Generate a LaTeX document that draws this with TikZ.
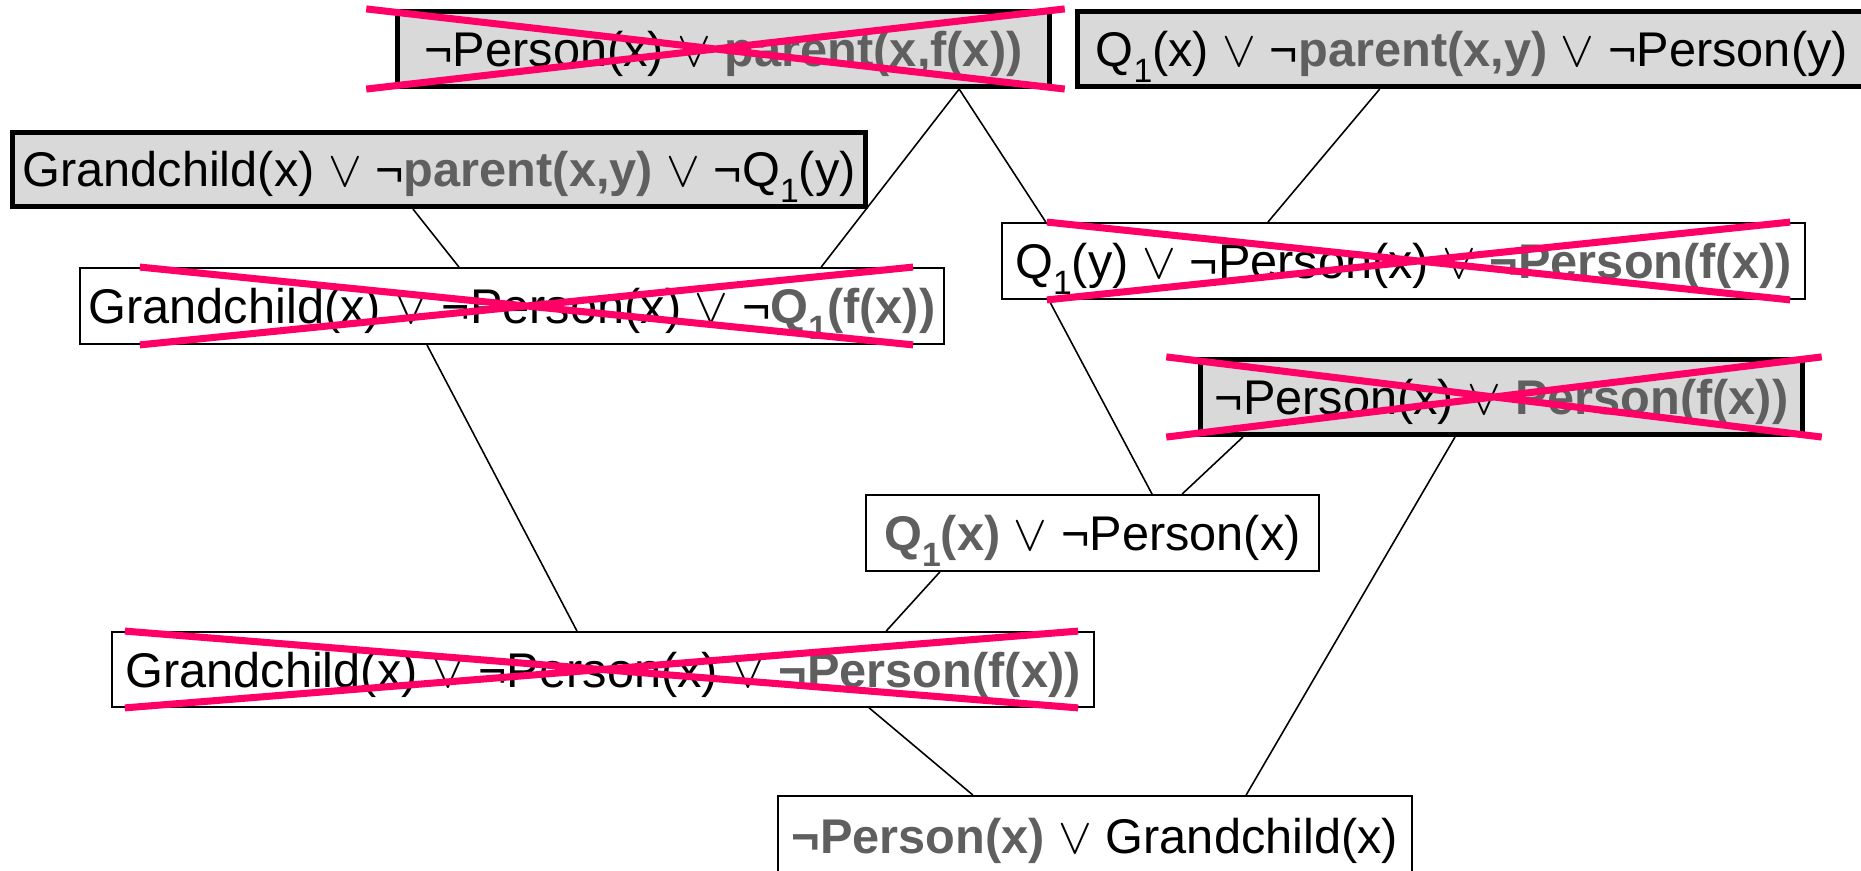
\documentclass[tikz,border=0pt]{standalone}
\usepackage{fontspec}
\setmainfont{Liberation Sans}
\usepackage{xcolor}
\usepackage{tikz}
\usetikzlibrary{calc}
\definecolor{boxgray}{HTML}{D9D9D9}
\definecolor{litgray}{HTML}{5F5F5F}
\definecolor{strike}{HTML}{FF0066}
\newcommand{\clausefont}{\fontsize{13.85pt}{16pt}\selectfont}
\newcommand{\hl}[1]{\textcolor{litgray}{\bfseries #1}}
\newcommand{\Qone}{Q\raisebox{-0.32em}{\fontsize{9.6pt}{10pt}\selectfont 1}}
\tikzset{
  clause/.style={draw,line width=0.5pt,inner sep=0pt,minimum height=0.76cm,
    text height=0.45cm,text depth=0.1cm,font=\clausefont},
  given/.style={clause,fill=boxgray,line width=1.45pt,minimum height=0.75cm},
  link/.style={line width=0.45pt},
  xout/.style={draw=strike,line width=2pt}
}

\begin{document}
\begin{tikzpicture}[x=0.01cm,y=-0.01cm]
\useasboundingbox (0,0) rectangle (1861,871);
\clip (0,0) rectangle (1861,871);
\node[given,minimum width=6.52cm] (pf) at (723.5,49) {¬Person(x) $\vee$ \hl{parent(x,f(x))}};
\node[given,minimum width=7.885cm] (qdef) at (1471.75,49) {\Qone(x) $\vee$ ¬\hl{parent(x,y)} $\vee$ ¬Person(y)};
\node[given,minimum width=8.53cm,minimum height=0.74cm] (gdef) at (439,169.5) {Grandchild(x) $\vee$ ¬\hl{parent(x,y)} $\vee$ ¬\Qone(y)};
\node[clause,minimum width=8.64cm] (gq) at (512,306) {Grandchild(x) $\vee$ ¬Person(x) $\vee$ ¬\hl{\Qone(f(x))}};
\node[clause,minimum width=8.03cm] (qpp) at (1403.5,261) {\Qone(y) $\vee$ ¬Person(x) $\vee$ \hl{¬Person(f(x))}};
\node[given,minimum width=6.02cm] (pp) at (1501.5,397) {¬Person(x) $\vee$ \hl{Person(f(x))}};
\node[clause,minimum width=4.53cm] (qp) at (1092.5,533) {\hl{\Qone(x)} $\vee$ ¬Person(x)};
\node[clause,minimum width=9.82cm,minimum height=0.75cm] (gpp) at (603,669.5) {Grandchild(x) $\vee$ ¬Person(x) $\vee$ \hl{¬Person(f(x))}};
\node[clause,minimum width=6.34cm,minimum height=0.8cm] (goal) at (1095,836) {\hl{¬Person(x)} $\vee$ Grandchild(x)};

\draw[link] ([xshift=-0.26cm]gdef.south) -- ([xshift=-0.53cm]gq.north);
\draw[link] ([xshift=2.355cm]pf.south) -- ([xshift=3.09cm]gq.north);
\draw[link] ([xshift=2.355cm]pf.south) -- ([xshift=-3.575cm]qpp.north);
\draw[link] ([xshift=-0.92cm]qdef.south) -- ([xshift=-1.355cm]qpp.north);
\draw[link] ([xshift=-3.545cm]qpp.south) -- ([xshift=0.595cm]qp.north);
\draw[link] ([xshift=-2.585cm]pp.south) -- ([xshift=0.895cm]qp.north);
\draw[link] ([xshift=-0.85cm]gq.south) -- ([xshift=-0.26cm]gpp.north);
\draw[link] ([xshift=-1.525cm]qp.south) -- ([xshift=2.83cm]gpp.north);
\draw[link] ([xshift=2.66cm]gpp.south) -- ([xshift=-1.22cm]goal.north);
\draw[link] ([xshift=-0.465cm]pp.south) -- ([xshift=1.51cm]goal.north);

\foreach \n/\l/\r in {pf/-0.285/0.125,gq/0.61/-0.32,qpp/0.46/-0.16,pp/-0.315/0.165,gpp/0.14/-0.17}
  \draw[xout] ([xshift=\l cm]\n.north west) -- ([xshift=\r cm]\n.south east)
              ([xshift=\l cm]\n.south west) -- ([xshift=\r cm]\n.north east);
\end{tikzpicture}
\end{document}
